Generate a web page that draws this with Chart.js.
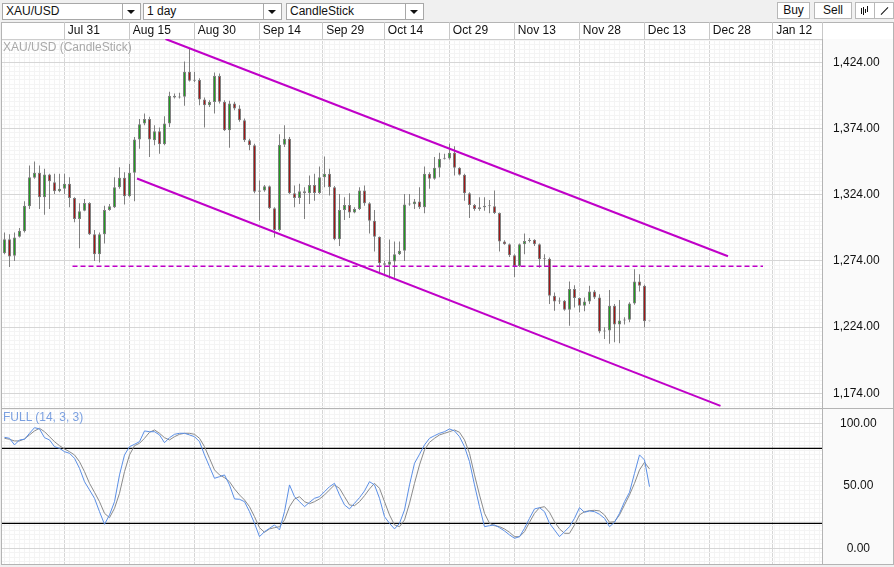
<!DOCTYPE html>
<html lang="en">
<head>
<meta charset="UTF-8">
<title>XAU/USD | CandleStick</title>
<script src="https://cdn.jsdelivr.net/npm/chart.js"></script>
<style>
    body { margin: 0; width: 894px; height: 567px; overflow: hidden; position: relative;
           background: #f0f0f0; font-family: "Liberation Sans", Arial, sans-serif; font-size: 12px; color: #111; }
    .sel { position: absolute; top: 3px; height: 15px; line-height: 15px; background: #fff; border: 1px solid #a8a8a8; }
    .sel span { position: absolute; left: 3px; top: 0; }
    .sel i { position: absolute; right: 0; top: 0; width: 17px; height: 15px; border-left: 1px solid #a8a8a8; }
    .sel i:after { content: ""; position: absolute; left: 4px; top: 6px; border-left: 4px solid transparent;
                   border-right: 4px solid transparent; border-top: 4px solid #111; }
    .btn { position: absolute; top: 2px; height: 15px; line-height: 15px; background: #fff; border: 1px solid #b8b8b8; text-align: center; }
    #frame { position: absolute; left: 1px; top: 22px; width: 891px; height: 541px; border: 1px solid #b4b4b4; background: #fff; }
    #eixo { position: absolute; left: 822px; top: 39px; width: 71px; height: 525px; background: #fafafa; }
    #sep { position: absolute; left: 2px; top: 408px; width: 891px; height: 1px; background: #b4b4b4; }
    canvas { position: absolute; left: 0; }
    .rotulo { position: absolute; left: 3px; white-space: nowrap; line-height: 14px; }
    .bar { position: absolute; width: 1px; background: #111; }
</style>
</head>

<body>
    <div class="sel" style="left:2px; width:137px;"><span>XAU/USD</span><i></i></div>
    <div class="sel" style="left:143px; width:137px;"><span>1 day</span><i></i></div>
    <div class="sel" style="left:286px; width:136px;"><span>CandleStick</span><i></i></div>

    <div class="btn" style="left:777px; width:31px;">Buy</div>
    <div class="btn" style="left:814px; width:36px;">Sell</div>
    <div class="btn" style="left:855px; width:18px;">
        <div class="bar" style="left:5px; top:5px; height:6px;"></div>
        <div class="bar" style="left:7px; top:4px; height:8px;"></div>
        <div class="bar" style="left:9px; top:6px; height:4px;"></div>
        <div class="bar" style="left:11px; top:3px; height:6px;"></div>
    </div>
    <div class="btn" style="left:874px; width:18px;">
        <div class="bar" style="left:9px; top:3px; height:10px; transform:rotate(45deg);"></div>
    </div>

    <div id="frame"></div>
    <div id="eixo"></div>

    <canvas id="graficoPreco" width="894" height="386" style="top:22px; width:894px; height:386px;"></canvas>
    <canvas id="graficoStoch" width="894" height="157" style="top:408px; width:894px; height:157px;"></canvas>

    <div id="sep"></div>
    <div class="rotulo" style="top:40px; color:#a9a9a9;">XAU/USD (CandleStick)</div>
    <div class="rotulo" style="top:410px; color:#7ba0e0;">FULL (14, 3, 3)</div>
</body>

</html>

<script>
    // eixo de datas (posicao em indice de candle)
    const dateLabels = ['Jul 31', 'Aug 15', 'Aug 30', 'Sep 14', 'Sep 29', 'Oct 14', 'Oct 29', 'Nov 13', 'Nov 28', 'Dec 13', 'Dec 28', 'Jan 12'];
    const dateIdx = [12, 25, 38, 51, 63.66, 76, 89, 102, 115, 128, 141, 153.66];

    const priceTicks = [1174, 1224, 1274, 1324, 1374, 1424];
    const stochTicks = [0, 50, 100];
    const stochGrid = [0, 100];
    const stochLevels = [20, 80];

    const open = [1279.8, 1290.4, 1277.8, 1292.2, 1296.3, 1315.2, 1336.7, 1340.5, 1322.0, 1339.3,
        1333.4, 1326.6, 1328.4, 1332.2, 1321.5, 1305.6, 1311.9, 1317.7, 1294.2, 1279.1,
        1294.2, 1312.4, 1314.5, 1329.6, 1336.7, 1322.8, 1340.5, 1365.6, 1377.7, 1381.2,
        1365.1, 1371.9, 1362.0, 1377.7, 1398.7, 1397.4, 1397.9, 1416.9, 1410.1, 1410.6,
        1395.9, 1391.6, 1393.9, 1413.6, 1394.1, 1372.6, 1392.9, 1389.1, 1380.2, 1365.1,
        1361.3, 1326.3, 1327.1, 1330.4, 1313.7, 1297.3, 1361.8, 1366.3, 1325.1, 1321.5,
        1326.6, 1325.1, 1331.4, 1325.3, 1337.2, 1339.8, 1329.6, 1290.4, 1312.4, 1316.2,
        1310.6, 1313.2, 1327.1, 1317.5, 1304.3, 1292.2, 1272.2, 1271.0, 1273.5, 1279.1,
        1281.6, 1316.5, 1316.8, 1318.8, 1314.5, 1339.8, 1336.0, 1344.3, 1351.1, 1351.4,
        1355.7, 1344.3, 1339.0, 1325.1, 1316.2, 1313.2, 1314.5, 1315.7, 1315.2, 1310.1,
        1288.6, 1286.6, 1278.3, 1270.2, 1286.6, 1289.1, 1289.9, 1286.6, 1275.2, 1275.7,
        1247.7, 1243.4, 1243.9, 1237.2, 1252.7, 1245.9, 1240.2, 1243.4, 1250.9, 1246.4,
        1220.6, 1221.4, 1240.2, 1225.9, 1228.9, 1229.6, 1241.9, 1258.5, 1255.2, 1228.4];

    const high = [1295.5, 1294.2, 1295.5, 1298.8, 1319.0, 1346.1, 1349.1, 1346.1, 1343.6, 1339.8,
        1339.8, 1339.8, 1339.8, 1337.2, 1322.0, 1317.5, 1320.8, 1318.2, 1297.3, 1295.5,
        1315.7, 1317.0, 1337.2, 1344.8, 1341.0, 1347.3, 1367.6, 1381.2, 1385.3, 1382.8,
        1376.4, 1374.7, 1383.3, 1401.7, 1400.5, 1401.0, 1424.5, 1434.6, 1416.9, 1411.9,
        1397.4, 1395.4, 1416.2, 1415.6, 1395.4, 1394.9, 1394.1, 1391.6, 1381.5, 1366.3,
        1362.5, 1334.7, 1331.4, 1330.9, 1314.5, 1369.6, 1376.4, 1367.6, 1330.9, 1332.2,
        1329.6, 1338.5, 1339.8, 1345.3, 1352.9, 1343.6, 1330.5, 1324.6, 1322.0, 1325.1,
        1314.5, 1329.6, 1330.9, 1318.2, 1312.4, 1292.5, 1274.0, 1290.2, 1288.6, 1288.6,
        1324.6, 1324.6, 1320.8, 1329.6, 1345.3, 1341.0, 1352.4, 1355.7, 1354.9, 1362.5,
        1360.5, 1344.8, 1339.8, 1325.8, 1317.0, 1322.0, 1322.0, 1320.0, 1327.1, 1310.6,
        1289.6, 1287.1, 1279.1, 1287.1, 1294.7, 1291.2, 1290.4, 1287.1, 1279.1, 1276.5,
        1250.2, 1246.4, 1244.4, 1258.5, 1255.7, 1246.4, 1246.4, 1255.2, 1252.0, 1248.9,
        1223.9, 1252.0, 1241.4, 1244.4, 1231.4, 1242.7, 1267.7, 1264.0, 1256.0, 1229.5];

    const low = [1279.1, 1269.4, 1274.0, 1291.7, 1295.5, 1313.2, 1336.0, 1313.2, 1308.9, 1313.2,
        1324.6, 1325.8, 1324.6, 1314.5, 1303.1, 1283.6, 1311.4, 1293.5, 1274.0, 1272.7,
        1287.1, 1311.9, 1313.9, 1328.4, 1316.5, 1322.0, 1319.0, 1358.7, 1376.4, 1352.4,
        1361.3, 1355.0, 1361.3, 1375.2, 1396.7, 1396.7, 1391.1, 1409.5, 1409.1, 1391.6,
        1374.7, 1390.3, 1385.3, 1392.9, 1372.1, 1359.5, 1387.8, 1379.0, 1363.8, 1357.5,
        1325.1, 1304.3, 1326.3, 1313.2, 1291.7, 1296.3, 1360.0, 1324.6, 1314.5, 1317.0,
        1305.6, 1317.0, 1319.5, 1324.6, 1329.6, 1323.3, 1289.6, 1285.3, 1304.8, 1306.4,
        1309.9, 1312.4, 1315.7, 1294.7, 1281.1, 1263.9, 1262.6, 1260.8, 1261.3, 1278.5,
        1274.0, 1315.7, 1313.2, 1313.2, 1309.9, 1328.4, 1335.2, 1337.2, 1350.6, 1350.4,
        1338.5, 1338.5, 1319.5, 1306.4, 1311.9, 1311.9, 1311.9, 1309.9, 1309.4, 1281.1,
        1286.1, 1277.0, 1261.8, 1269.4, 1279.1, 1287.9, 1285.3, 1268.9, 1269.4, 1241.4,
        1236.4, 1241.4, 1236.4, 1225.1, 1238.9, 1235.2, 1235.9, 1241.4, 1245.2, 1219.4,
        1215.1, 1211.4, 1212.6, 1211.8, 1225.9, 1227.6, 1240.9, 1250.9, 1223.9, 1227.8];

    const close = [1290.4, 1277.3, 1291.7, 1296.8, 1315.7, 1337.2, 1340.5, 1322.0, 1339.3, 1334.2,
        1326.6, 1328.4, 1332.2, 1321.5, 1305.6, 1311.4, 1317.7, 1294.2, 1279.1, 1294.2,
        1312.4, 1315.2, 1329.6, 1336.7, 1322.8, 1340.5, 1365.6, 1377.2, 1381.2, 1365.6,
        1371.9, 1362.0, 1377.7, 1398.7, 1397.4, 1397.9, 1416.9, 1410.1, 1410.6, 1395.9,
        1391.6, 1393.9, 1413.6, 1394.1, 1372.6, 1392.9, 1389.1, 1380.2, 1365.1, 1361.3,
        1326.3, 1327.1, 1330.4, 1313.7, 1297.3, 1361.8, 1366.3, 1325.1, 1321.5, 1326.6,
        1325.1, 1331.4, 1325.3, 1337.2, 1339.8, 1329.6, 1290.4, 1312.4, 1316.2, 1310.6,
        1313.2, 1327.1, 1317.5, 1304.3, 1292.2, 1272.2, 1271.0, 1273.5, 1279.1, 1281.6,
        1316.5, 1316.8, 1318.8, 1314.5, 1339.8, 1336.0, 1344.3, 1351.1, 1351.4, 1355.7,
        1344.3, 1339.0, 1325.1, 1316.2, 1313.2, 1314.5, 1315.7, 1315.2, 1310.1, 1288.6,
        1286.6, 1278.3, 1270.2, 1286.6, 1289.1, 1289.9, 1286.6, 1275.2, 1275.7, 1247.7,
        1243.4, 1243.9, 1237.2, 1252.7, 1245.9, 1240.2, 1243.4, 1250.9, 1246.4, 1220.6,
        1221.4, 1240.2, 1225.9, 1228.9, 1229.6, 1241.9, 1258.5, 1255.2, 1228.4, 1228.6];

    // estocastico FULL (14, 3, 3)
    const pctK = [88.8, 88.0, 82.7, 86.7, 87.2, 92.0, 96.5, 95.5, 88.5, 86.7,
        81.3, 80.0, 77.3, 76.0, 72.0, 64.0, 53.3, 46.7, 40.0, 29.3,
        19.2, 26.7, 37.3, 58.7, 74.7, 81.3, 83.2, 85.3, 93.9, 93.3,
        93.3, 90.7, 84.5, 88.5, 91.2, 92.0, 92.0, 90.7, 89.3, 85.3,
        74.7, 65.3, 56.0, 57.3, 58.7, 50.7, 39.5, 39.2, 37.3, 29.3,
        20.0, 9.3, 13.3, 16.0, 18.7, 14.7, 29.3, 50.7, 41.3, 37.3,
        33.3, 36.8, 40.0, 41.3, 45.3, 49.3, 52.0, 42.7, 34.7, 31.5,
        36.0, 40.5, 45.9, 53.3, 50.7, 40.0, 25.3, 20.0, 15.5, 20.0,
        30.7, 50.7, 68.0, 75.2, 82.7, 88.0, 90.1, 92.0, 93.3, 95.5,
        93.9, 89.3, 81.3, 69.3, 50.7, 33.3, 17.3, 18.1, 18.7, 16.5,
        13.9, 10.7, 8.0, 9.3, 16.0, 24.0, 31.5, 32.5, 29.3, 20.0,
        14.7, 9.3, 13.3, 17.3, 24.0, 32.5, 28.8, 29.9, 29.3, 27.2,
        24.0, 17.3, 20.8, 28.0, 37.3, 44.8, 60.0, 74.7, 70.7, 49.3];

    const pctD = [88.0, 87.2, 85.9, 85.9, 87.5, 90.7, 93.9, 96.0, 93.3, 89.3,
        85.3, 82.1, 79.5, 77.3, 74.7, 69.3, 61.3, 52.0, 44.8, 37.3,
        28.0, 24.5, 32.0, 44.0, 61.3, 74.7, 82.1, 84.0, 88.0, 92.8,
        94.7, 92.0, 88.5, 86.7, 89.3, 91.2, 92.0, 92.0, 91.2, 88.0,
        81.3, 72.0, 62.7, 58.7, 56.5, 53.3, 47.5, 42.7, 38.7, 33.3,
        25.3, 16.5, 12.8, 15.5, 16.5, 17.3, 22.7, 33.3, 39.5, 41.3,
        37.3, 35.7, 37.3, 39.5, 42.7, 46.7, 50.7, 48.0, 41.3, 34.7,
        34.1, 37.3, 42.1, 47.5, 52.0, 48.0, 37.3, 26.7, 18.7, 17.3,
        22.7, 36.0, 52.0, 66.7, 78.7, 84.8, 88.0, 90.7, 92.0, 93.3,
        94.7, 92.8, 86.7, 76.0, 58.7, 42.7, 28.0, 20.0, 18.1, 17.3,
        15.5, 12.8, 9.3, 9.3, 13.3, 20.8, 28.0, 32.5, 33.3, 28.8,
        21.3, 15.5, 12.0, 12.0, 18.7, 26.7, 29.3, 30.1, 30.4, 29.9,
        26.7, 20.8, 21.3, 26.7, 34.7, 42.7, 52.0, 62.7, 68.8, 63.5];

    // linhas de tendencia (indice do candle, preco)
    const upperTrendX = [32.2, 144.7];
    const upperTrendY = [1441.6, 1277.5];
    const lowerTrendX = [26.5, 143.2];
    const lowerTrendY = [1336.2, 1164.5];
    const supportX = [13.6, 151.7];
    const supportY = [1270, 1270];

    Chart.defaults.font.family = '"Liberation Sans", Arial, sans-serif';
    Chart.defaults.font.size = 12;
    Chart.defaults.color = '#111';
    Chart.defaults.animation = false;

    const X_MIN = -0.5, X_MAX = 163.5;
    const corGrade = ctx => ctx.tick && ctx.tick.major ? '#d6d6d6' : '#f4f4f4';

    function pontos(xs, ys) {
        return xs.map((x, i) => ({ x: x, y: ys[i] }));
    }

    function gradeX(comBorda) {
        return function (scale) {
            const t = [];
            for (let i = 0; i <= 163; i++) {
                if (!dateIdx.some(d => Math.abs(d - i) < 0.01)) t.push({ value: i, major: false, lab: '' });
            }
            dateIdx.forEach((d, k) => t.push({ value: d, major: true, lab: dateLabels[k] }));
            if (comBorda) t.push({ value: X_MAX, major: true, lab: '' });
            t.sort((a, b) => a.value - b.value);
            scale.ticks = t;
        };
    }

    function gradeY(maiores, rotulos, passo, min, max) {
        return function (scale) {
            const t = [];
            const base = maiores[0];
            const k0 = Math.ceil((min - base) / passo);
            const k1 = Math.floor((max - base) / passo);
            for (let k = k0; k <= k1; k++) {
                const v = base + k * passo;
                const maior = maiores.some(m => Math.abs(m - v) < 1e-6);
                const rot = rotulos.some(m => Math.abs(m - v) < 1e-6);
                t.push({ value: v, major: maior, lab: rot ? Math.round(v) : null });
            }
            scale.ticks = t;
        };
    }

    function semPadding(scale) {
        scale.paddingTop = 0;
        scale.paddingBottom = 0;
        scale.paddingLeft = 0;
        scale.paddingRight = 0;
    }

    // ---------- grafico de precos ----------
    const indices = open.map((_, i) => i);
    const ultimo = indices.length - 1;
    const corCorpo = indices.map(i => i === ultimo ? '#cccccc' : (close[i] >= open[i] ? '#1f9a1f' : '#a01616'));
    const corBorda = indices.map(i => i === ultimo ? '#cccccc' : '#808080');

    const P_MIN = 1162.92, P_MAX = 1441.56;

    new Chart(document.getElementById('graficoPreco'), {
        type: 'bar',
        data: {
            datasets: [
                {
                    type: 'line', order: 0,
                    data: pontos(upperTrendX, upperTrendY),
                    borderColor: '#c000c8', borderWidth: 2, pointRadius: 0
                },
                {
                    type: 'line', order: 0,
                    data: pontos(lowerTrendX, lowerTrendY),
                    borderColor: '#c000c8', borderWidth: 2, pointRadius: 0
                },
                {
                    type: 'line', order: 0,
                    data: pontos(supportX, supportY),
                    borderColor: '#c000c8', borderWidth: 1.5, borderDash: [5, 3], pointRadius: 0
                },
                {
                    order: 1,
                    data: indices.map(i => ({ x: i, y: [open[i], close[i]] })),
                    backgroundColor: corCorpo, borderColor: corBorda, borderWidth: 1, borderSkipped: false,
                    barThickness: 3, maxBarThickness: 3, minBarLength: 1, grouped: false, inflateAmount: 0
                },
                {
                    order: 2,
                    data: indices.map(i => ({ x: i, y: [low[i], high[i]] })),
                    backgroundColor: corBorda, borderWidth: 0,
                    barThickness: 1, maxBarThickness: 1, minBarLength: 1, grouped: false, inflateAmount: 0
                }
            ]
        },
        options: {
            responsive: false,
            events: [],
            layout: { padding: { left: 2, right: 0, top: 0, bottom: 0 } },
            plugins: { legend: { display: false }, tooltip: { enabled: false } },
            scales: {
                x: {
                    type: 'linear', position: 'top', min: X_MIN, max: X_MAX, offset: false,
                    afterBuildTicks: gradeX(true),
                    afterFit: s => { s.height = 17; semPadding(s); },
                    grid: {
                        offset: false, color: corGrade, drawTicks: true, tickLength: 17,
                        tickColor: ctx => ctx.tick && ctx.tick.major ? '#c8c8c8' : 'rgba(0,0,0,0)'
                    },
                    border: { display: true, color: '#cdcdcd' },
                    ticks: {
                        align: 'start', padding: -16, autoSkip: false, maxRotation: 0, minRotation: 0, color: '#111',
                        callback: (v, i, t) => t[i].lab ? ' ' + t[i].lab : ''
                    }
                },
                y: {
                    type: 'linear', position: 'right', min: P_MIN, max: P_MAX,
                    afterBuildTicks: gradeY(priceTicks, priceTicks, 50 / 15, P_MIN, P_MAX),
                    afterFit: s => { s.width = 72; semPadding(s); },
                    grid: { color: corGrade, drawTicks: false },
                    border: { display: true, color: '#b4b4b4' },
                    ticks: {
                        autoSkip: false, padding: 11, crossAlign: 'center', color: '#111',
                        callback: (v, i, t) => t[i].lab === null ? '' :
                            t[i].lab.toLocaleString('en-US', { minimumFractionDigits: 2, maximumFractionDigits: 2 })
                    }
                }
            }
        }
    });

    // ---------- estocastico ----------
    const S_MIN = -12.56, S_MAX = 112.24;

    new Chart(document.getElementById('graficoStoch'), {
        type: 'line',
        data: {
            datasets: [
                {
                    order: 0, data: pctK.map((v, i) => ({ x: i, y: v })),
                    borderColor: '#5b8fe6', borderWidth: 1, pointRadius: 0, tension: 0
                },
                {
                    order: 1, data: pctD.map((v, i) => ({ x: i, y: v })),
                    borderColor: '#8a8a8a', borderWidth: 1, pointRadius: 0, tension: 0
                },
                {
                    order: 2, data: [{ x: X_MIN, y: stochLevels[1] }, { x: X_MAX, y: stochLevels[1] }],
                    borderColor: '#000', borderWidth: 1.3, pointRadius: 0
                },
                {
                    order: 2, data: [{ x: X_MIN, y: stochLevels[0] }, { x: X_MAX, y: stochLevels[0] }],
                    borderColor: '#000', borderWidth: 1.3, pointRadius: 0
                }
            ]
        },
        options: {
            responsive: false,
            events: [],
            layout: { padding: { left: 2, right: 0, top: 0, bottom: 1 } },
            plugins: { legend: { display: false }, tooltip: { enabled: false } },
            scales: {
                x: {
                    type: 'linear', position: 'bottom', min: X_MIN, max: X_MAX,
                    afterBuildTicks: gradeX(false),
                    afterFit: s => { s.height = 0; semPadding(s); },
                    grid: { color: corGrade, drawTicks: false },
                    border: { display: true, color: '#b4b4b4' },
                    ticks: { display: false, autoSkip: false }
                },
                y: {
                    type: 'linear', position: 'right', min: S_MIN, max: S_MAX,
                    afterBuildTicks: gradeY(stochGrid, stochTicks, 100 / 28, S_MIN, S_MAX),
                    afterFit: s => { s.width = 72; semPadding(s); },
                    grid: { color: corGrade, drawTicks: false },
                    border: { display: true, color: '#b4b4b4' },
                    ticks: {
                        autoSkip: false, padding: 18, crossAlign: 'center', color: '#111',
                        callback: (v, i, t) => t[i].lab === null ? '' : t[i].lab.toFixed(2)
                    }
                }
            }
        }
    });
</script>
